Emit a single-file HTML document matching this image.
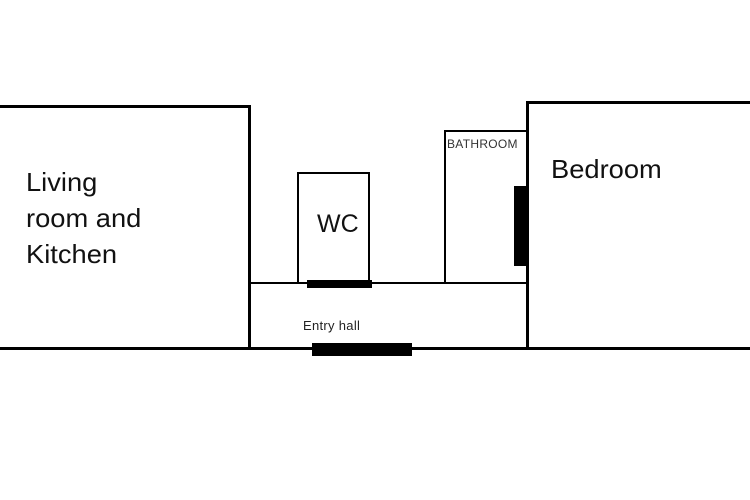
<!DOCTYPE html>
<html><head><style>
body{margin:0;width:750px;height:500px;background:#fff;overflow:hidden;position:relative;font-family:"Liberation Sans",sans-serif;}
.b{position:absolute;box-sizing:border-box;}
.t{position:absolute;color:#111;white-space:nowrap;}
</style></head><body>
<div class="b" style="left:-5px;top:105px;width:256px;height:245px;border:3px solid #000;"></div>
<div class="b" style="left:249px;top:282px;width:280px;height:68px;border-top:2px solid #000;border-bottom:3px solid #000;"></div>
<div class="b" style="left:297px;top:172px;width:73px;height:112px;border:2px solid #000;"></div>
<div class="b" style="left:444px;top:130px;width:84px;height:154px;border:2px solid #000;"></div>
<div class="b" style="left:526px;top:101px;width:240px;height:249px;border:3px solid #000;"></div>
<div class="b" style="left:307px;top:280px;width:65px;height:8px;background:#000;"></div>
<div class="b" style="left:514px;top:186px;width:13px;height:80px;background:#000;"></div>
<div class="b" style="left:312px;top:343px;width:100px;height:13px;background:#000;"></div>
<div class="t" style="left:26px;top:164px;font-size:26px;line-height:36px;transform:scaleX(1.05);transform-origin:left;">Living<br>room and<br>Kitchen</div>
<div class="t" style="left:317px;top:210px;font-size:25px;">WC</div>
<div class="t" style="left:447px;top:137px;font-size:12px;color:#333;letter-spacing:0.3px;">BATHROOM</div>
<div class="t" style="left:551px;top:154px;font-size:26px;transform:scaleX(1.05);transform-origin:left;">Bedroom</div>
<div class="t" style="left:303px;top:318px;font-size:13px;color:#222;letter-spacing:0.3px;">Entry hall</div>
</body></html>
